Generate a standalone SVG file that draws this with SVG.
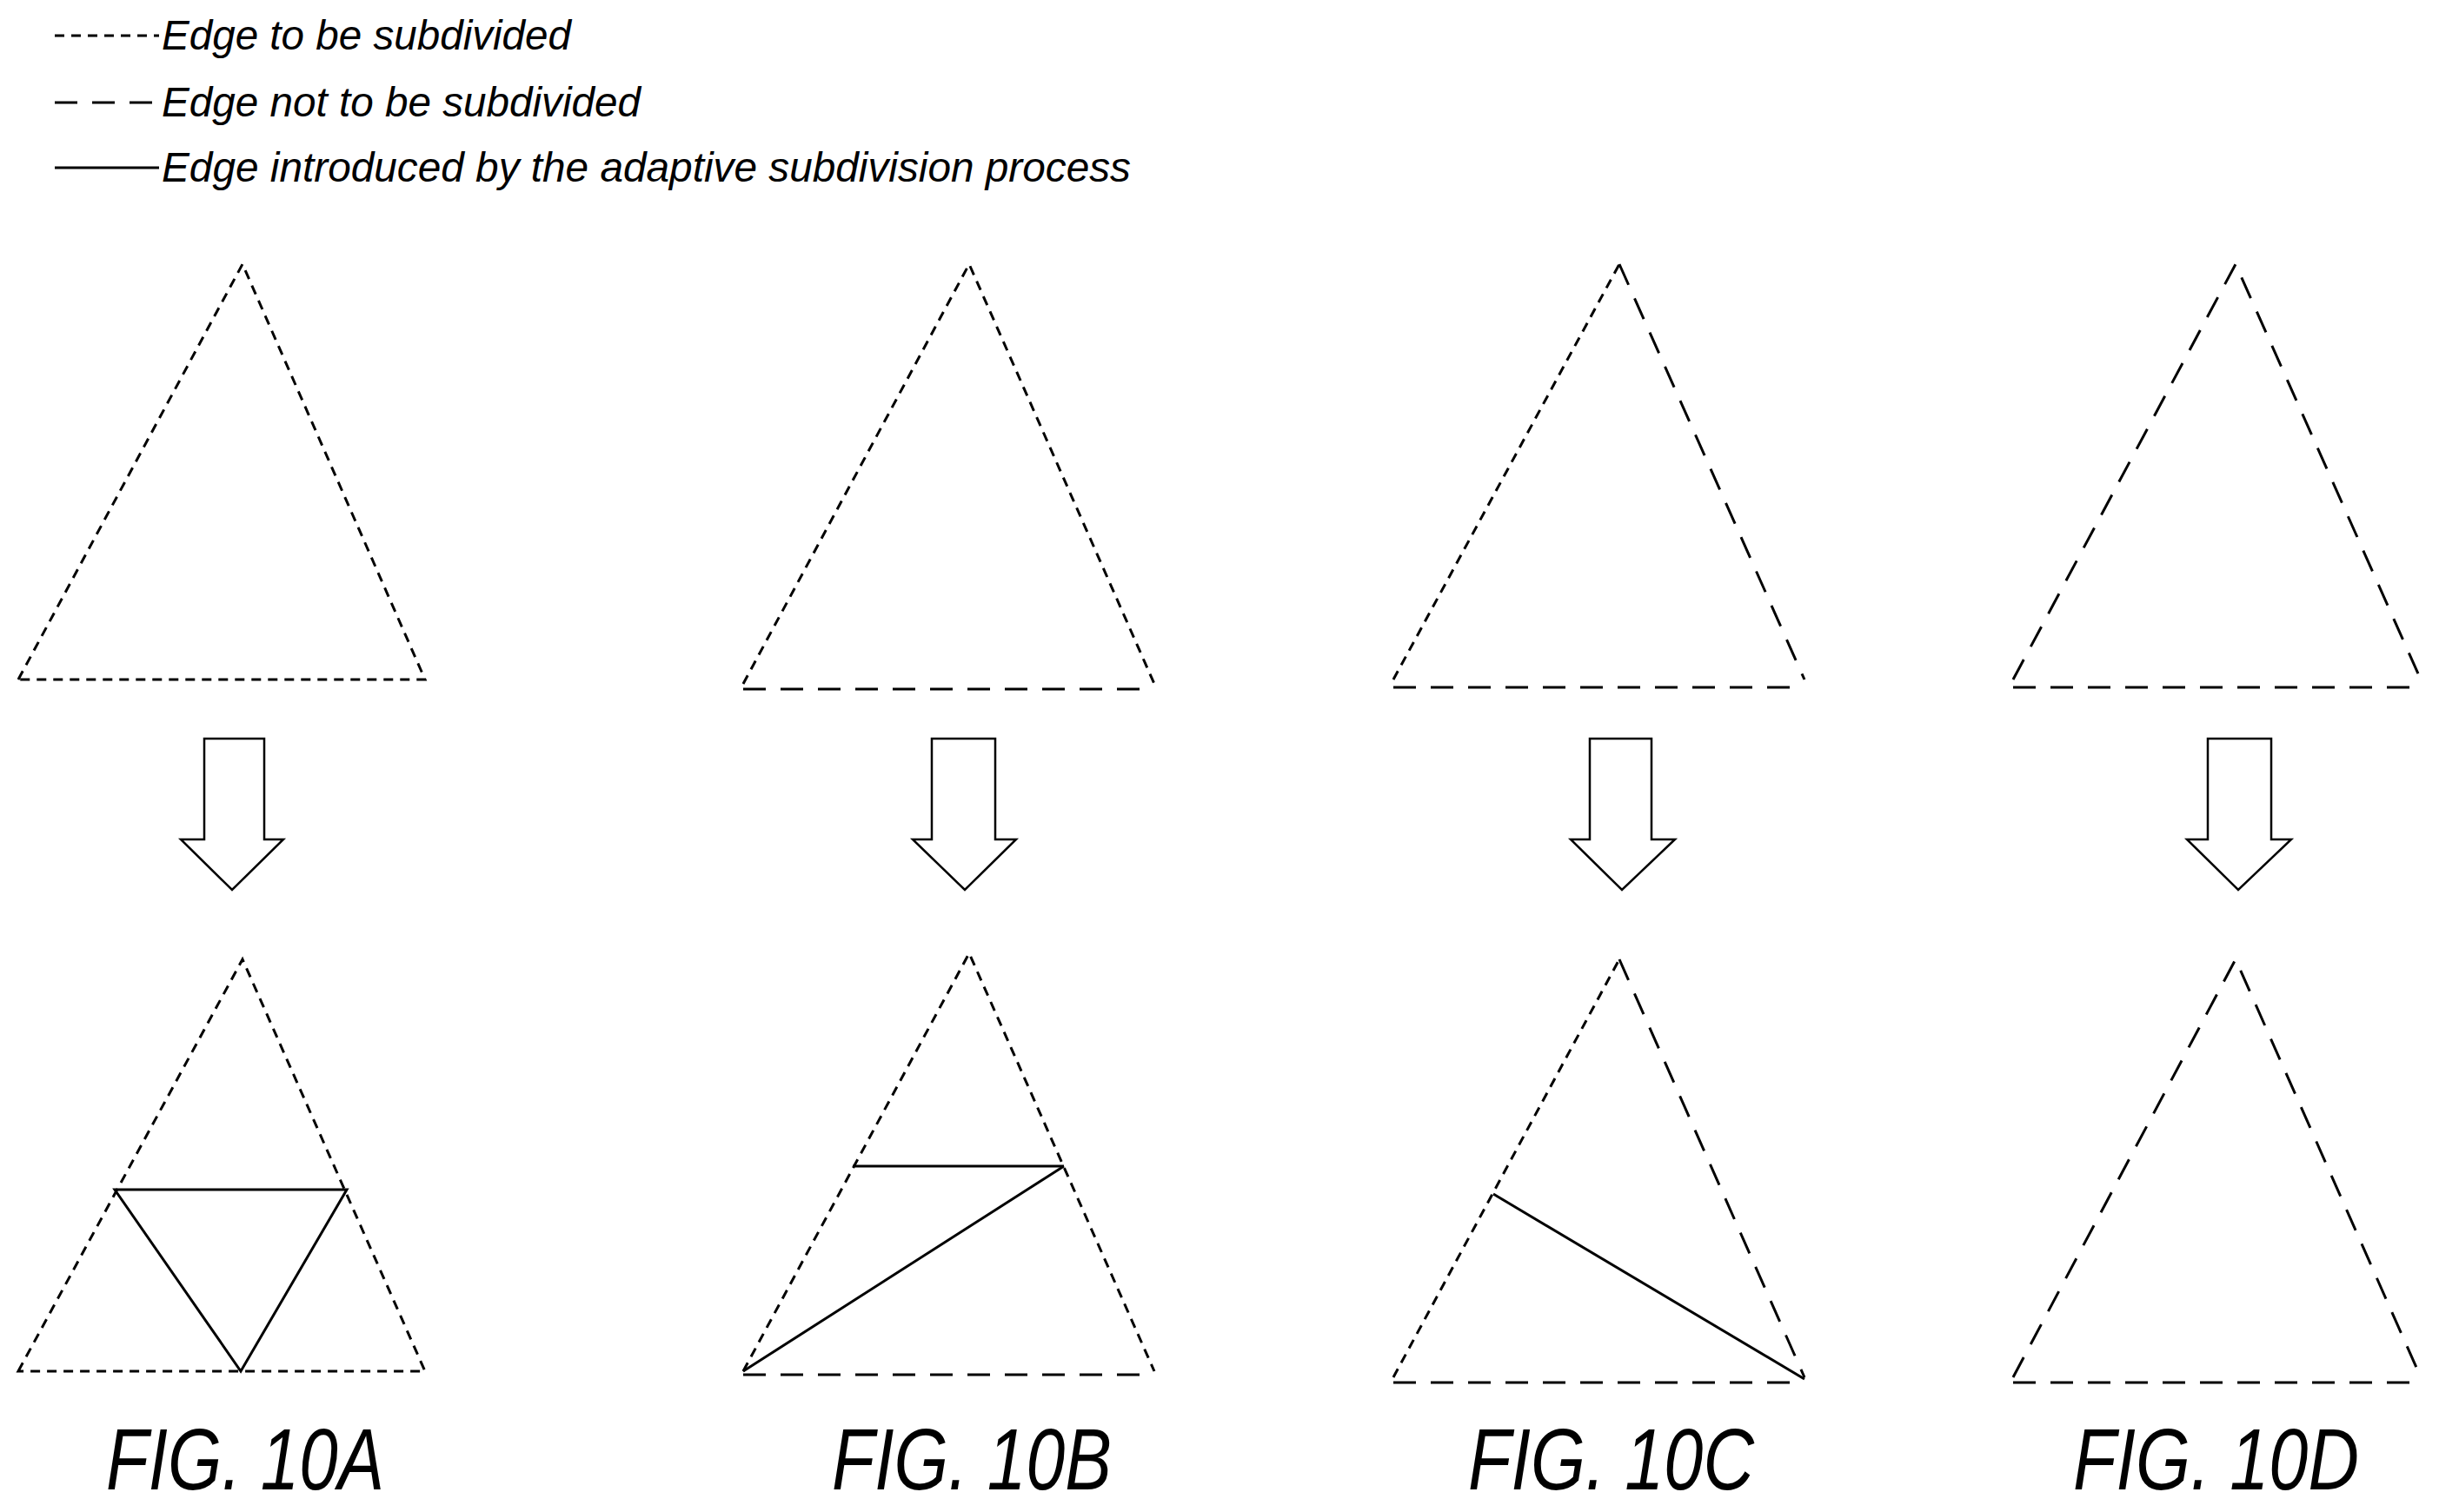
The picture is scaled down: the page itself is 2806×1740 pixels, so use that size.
<svg xmlns="http://www.w3.org/2000/svg" width="2806" height="1740" viewBox="0 0 2806 1740">
<style>
.s{fill:none;stroke:#000;stroke-width:3;stroke-dasharray:11 8}
.l{fill:none;stroke:#000;stroke-width:3;stroke-dasharray:26 17}
.n{fill:none;stroke:#000;stroke-width:3}
.a{fill:#fff;stroke:#000;stroke-width:2.5}
.t{font-family:"Liberation Sans",Arial,sans-serif;font-style:italic;fill:#000}
</style>
<rect width="2806" height="1740" fill="#fff"/>
<g id="legend">
<line class="s" x1="63" y1="41" x2="183" y2="41"/>
<text class="t" x="186" y="57" font-size="48" textLength="471" lengthAdjust="spacingAndGlyphs">Edge to be subdivided</text>
<line class="l" x1="63" y1="118" x2="183" y2="118"/>
<text class="t" x="186" y="134" font-size="48" textLength="551" lengthAdjust="spacingAndGlyphs">Edge not to be subdivided</text>
<line class="n" x1="63" y1="193" x2="183" y2="193"/>
<text class="t" x="186" y="209" font-size="48" textLength="1115" lengthAdjust="spacingAndGlyphs">Edge introduced by the adaptive subdivision process</text>
</g>
<g id="fig10A">
<path class="s" d="M21,782 L279,304 L489,782 Z"/>
<polygon class="a" points="235,850 304,850 304,966 326,966 267,1024 208,966 235,966"/>
<path class="s" d="M21,1578 L279,1104 L489,1578 Z"/>
<path class="n" d="M132,1369 L399,1369 L277,1578 Z"/>
<text class="t" x="122" y="1714" font-size="100" textLength="320" lengthAdjust="spacingAndGlyphs">FIG. 10A</text>
</g>
<g id="fig10B">
<path class="s" d="M855,787 L1115,304 L1328,787"/>
<line class="l" x1="855" y1="793" x2="1328" y2="793"/>
<polygon class="a" points="1072,850 1145,850 1145,966 1169,966 1110,1024 1050,966 1072,966"/>
<path class="s" d="M855,1578 L1115,1097 L1328,1578"/>
<line class="l" x1="855" y1="1582" x2="1328" y2="1582"/>
<line class="n" x1="981" y1="1342" x2="1224" y2="1342"/>
<line class="n" x1="855" y1="1578" x2="1224" y2="1342"/>
<text class="t" x="957" y="1714" font-size="100" textLength="322" lengthAdjust="spacingAndGlyphs">FIG. 10B</text>
</g>
<g id="fig10C">
<path class="s" d="M1603,782 L1863,304"/>
<path class="l" d="M1863,304 L2076,782"/>
<line class="l" x1="1603" y1="791" x2="2076" y2="791"/>
<polygon class="a" points="1829,850 1900,850 1900,966 1927,966 1866,1024 1807,966 1829,966"/>
<path class="s" d="M1603,1585 L1863,1104"/>
<path class="l" d="M1863,1104 L2076,1585"/>
<line class="l" x1="1603" y1="1591" x2="2076" y2="1591"/>
<line class="n" x1="1718" y1="1374" x2="2076" y2="1587"/>
<text class="t" x="1689" y="1714" font-size="100" textLength="329" lengthAdjust="spacingAndGlyphs">FIG. 10C</text>
</g>
<g id="fig10D">
<path class="l" d="M2316,782 L2572,304 L2785,782"/>
<line class="l" x1="2316" y1="791" x2="2785" y2="791"/>
<polygon class="a" points="2540,850 2613,850 2613,966 2636,966 2575,1024 2516,966 2540,966"/>
<path class="l" d="M2316,1585 L2572,1104 L2785,1585"/>
<line class="l" x1="2316" y1="1591" x2="2785" y2="1591"/>
<text class="t" x="2385" y="1714" font-size="100" textLength="329" lengthAdjust="spacingAndGlyphs">FIG. 10D</text>
</g>
<g id="connectors"></g>
</svg>
